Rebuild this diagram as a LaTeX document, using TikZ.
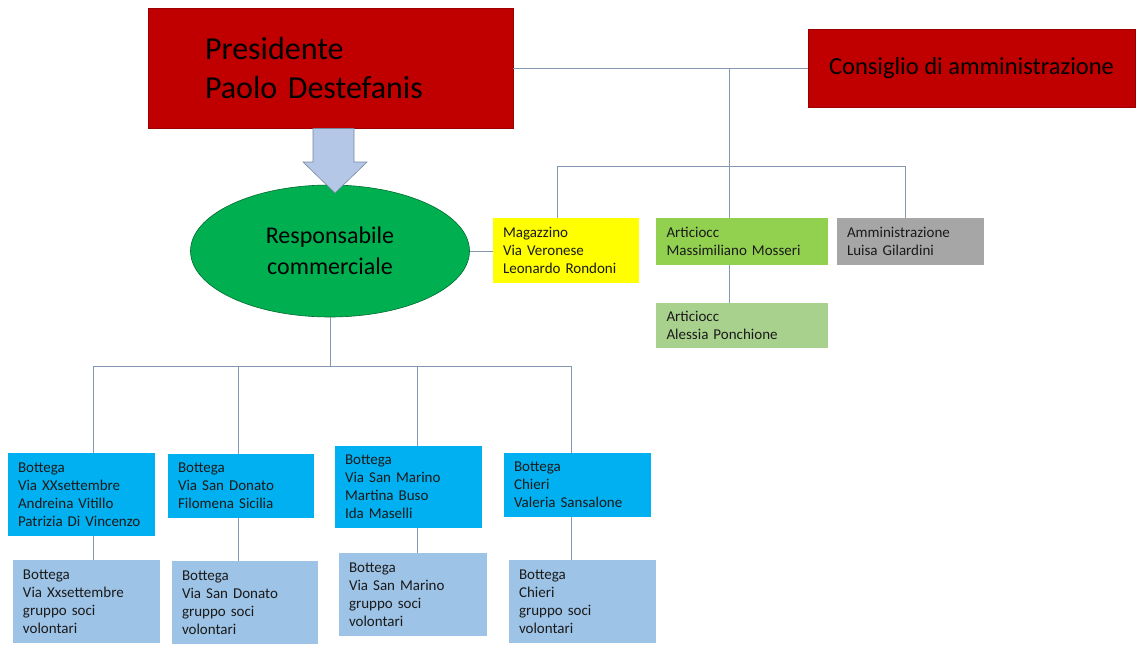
\documentclass[tikz,border=0pt]{standalone}
\usepackage{fontspec}
\setmainfont{Carlito}
\usetikzlibrary{shapes.geometric}
\definecolor{cred}{HTML}{C00000}
\definecolor{cgreen}{HTML}{00B050}
\definecolor{cyel}{HTML}{FFFF00}
\definecolor{cg1}{HTML}{92D050}
\definecolor{cg2}{HTML}{A9D18E}
\definecolor{cgrey}{HTML}{A6A6A6}
\definecolor{cblue}{HTML}{00B0F0}
\definecolor{clblue}{HTML}{9DC3E6}
\definecolor{cline}{HTML}{8497B0}
\definecolor{carrow}{HTML}{B4C7E7}
\definecolor{ctext}{HTML}{1A1A1A}
\tikzset{
  conn/.style={draw=cline, line width=0.9pt},
  smallbox/.style={rectangle, draw=none, inner xsep=10pt, inner ysep=0pt, align=left,
    font=\fontsize{15}{18}\selectfont, text=ctext},
}
\begin{document}
\begin{tikzpicture}[x=1pt,y=-1pt]
\useasboundingbox (0,0) rectangle (1137,653);
% top
\node[rectangle, fill=cred, draw=cred!80!black, line width=0.6pt, minimum width=365, minimum height=120,
  text width=365-114, inner xsep=57pt, align=left, font=\fontsize{32}{39}\selectfont, text=black]
  (pres) at (330.5,68) {Presidente\\Paolo Destefanis};
\node[rectangle, fill=cred, draw=cred!80!black, line width=0.6pt, minimum width=327, minimum height=78,
  font=\fontsize{24.5}{29}\selectfont, text=black] (cons) at (971.5,68) {Consiglio di amministrazione};
\node[ellipse, fill=cgreen, draw=cgreen!60!black, line width=0.6pt, minimum width=279, minimum height=132,
  align=center, font=\fontsize{24}{31}\selectfont, text=black] (resp) at (330,251) {Responsabile\\commerciale};
% block arrow
\draw[fill=carrow, draw=cline!90!black, line width=0.6pt]
  (313,128.5) -- (354,128.5) -- (354,162) -- (367,162) -- (335,193) -- (303,162) -- (313,162) -- cycle;
% right boxes
\node[smallbox, fill=cyel, minimum width=146, minimum height=65, text width=126] (mag) at (566,250.5)
  {Magazzino\\Via Veronese\\Leonardo Rondoni};
\node[smallbox, fill=cg1, minimum width=172, minimum height=47, text width=151, inner xsep=10.5pt] (art1) at (742,241.5)
  {Articiocc\\Massimiliano Mosseri};
\node[smallbox, fill=cgrey, minimum width=147, minimum height=47, text width=127] (amm) at (910.5,241.5)
  {Amministrazione\\Luisa Gilardini};
\node[smallbox, fill=cg2, minimum width=172, minimum height=45, text width=151, inner xsep=10.5pt] (art2) at (742,325.5)
  {Articiocc\\Alessia Ponchione};
% bottom row 1
\node[smallbox, fill=cblue, minimum width=147, minimum height=83, text width=127] (b1) at (81.5,494.5)
  {Bottega\\Via XXsettembre\\Andreina Vitillo\\Patrizia Di Vincenzo};
\node[smallbox, fill=cblue, minimum width=146, minimum height=64, text width=126] (b2) at (241,486)
  {Bottega\\Via San Donato\\Filomena Sicilia};
\node[smallbox, fill=cblue, minimum width=147, minimum height=82, text width=127] (b3) at (408.5,487)
  {Bottega\\Via San Marino\\Martina Buso\\Ida Maselli};
\node[smallbox, fill=cblue, minimum width=147, minimum height=64, text width=127] (b4) at (577.5,485)
  {Bottega\\Chieri\\Valeria Sansalone};
% bottom row 2
\node[smallbox, fill=clblue, minimum width=147, minimum height=83, text width=127] (c1) at (86.5,601.5)
  {Bottega\\Via Xxsettembre\\gruppo soci\\volontari};
\node[smallbox, fill=clblue, minimum width=146, minimum height=83, text width=126] (c2) at (245,602.5)
  {Bottega\\Via San Donato\\gruppo soci\\volontari};
\node[smallbox, fill=clblue, minimum width=148, minimum height=83, text width=128] (c3) at (413,594.5)
  {Bottega\\Via San Marino\\gruppo soci\\volontari};
\node[smallbox, fill=clblue, minimum width=147, minimum height=83, text width=127] (c4) at (582.5,601.5)
  {Bottega\\Chieri\\gruppo soci\\volontari};
% connectors top
\draw[conn] (pres.east) -- (cons.west);
\coordinate (jt) at (729,68);
\coordinate (busr) at (729,166);
\coordinate (bmag) at (557,166);
\coordinate (bamm) at (905,166);
\draw[conn] (jt) -- (busr);
\draw[conn] (bmag) -- (bamm);
\draw[conn] (bmag) -- (bmag |- mag.north);
\draw[conn] (bamm) -- (bamm |- amm.north);
\draw[conn] (busr) -- (busr |- art1.north);
\draw[conn] (busr |- art1.south) -- (busr |- art2.north);
\draw[conn] (resp.east) -- (mag.west |- resp.east);
% connectors bottom
\coordinate (busb) at (330,366);
\coordinate (x1) at (93,366);
\coordinate (x2) at (238,366);
\coordinate (x3) at (417,366);
\coordinate (x4) at (571,366);
\draw[conn] (resp.south) -- (busb);
\draw[conn] (x1) -- (x4);
\draw[conn] (x1) -- (x1 |- b1.north);
\draw[conn] (x2) -- (x2 |- b2.north);
\draw[conn] (x3) -- (x3 |- b3.north);
\draw[conn] (x4) -- (x4 |- b4.north);
\draw[conn] (x1 |- b1.south) -- (x1 |- c1.north);
\draw[conn] (x2 |- b2.south) -- (x2 |- c2.north);
\draw[conn] (x3 |- b3.south) -- (x3 |- c3.north);
\draw[conn] (x4 |- b4.south) -- (x4 |- c4.north);
\end{tikzpicture}
\end{document}
